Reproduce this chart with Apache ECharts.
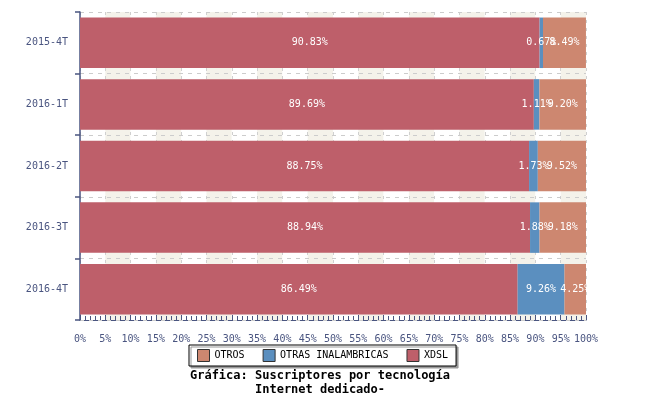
<!DOCTYPE html>
<html>
<head>
<meta charset="utf-8">
<script src="https://cdn.jsdelivr.net/npm/echarts@6/dist/echarts.min.js"></script>
<style>
  html, body { margin: 0; padding: 0; background: #fff; }
  #app { width: 650px; height: 400px; }
</style>
</head>
<body>
<div id="app"></div>
<script>
const periods = ['2015-4T', '2016-1T', '2016-2T', '2016-3T', '2016-4T'];
const xdsl = [90.83, 89.69, 88.75, 88.94, 86.49];
const otrasInalambricas = [0.67, 1.11, 1.73, 1.88, 9.26];
const otros = [8.49, 9.20, 9.52, 9.18, 4.25];

const mono = 'DejaVu Sans Mono';
const axisColor = '#4a5580';

const myChart = echarts.init(document.getElementById('app'));

const segLabel = {
  show: true,
  position: 'inside',
  color: '#fff',
  fontFamily: mono,
  fontSize: 10,
  formatter: p => p.value.toFixed(2) + '%'
};

const makeSeries = (name, data, color) => ({
  name,
  type: 'bar',
  stack: 'total',
  barCategoryGap: '18%',
  data,
  itemStyle: { color },
  label: segLabel,
  emphasis: { disabled: true }
});

const option = {
  animation: false,
  grid: { left: 80, right: 64, top: 12, bottom: 80 },
  legend: {
    data: ['OTROS', 'OTRAS INALAMBRICAS', 'XDSL'],
    left: 189,
    top: 345,
    padding: [4, 8, 4, 8],
    itemGap: 18,
    itemWidth: 12,
    itemHeight: 12,
    icon: 'rect',
    backgroundColor: '#fff',
    borderColor: '#000',
    borderWidth: 1,
    shadowColor: '#999',
    shadowOffsetX: 2,
    shadowOffsetY: 2,
    itemStyle: { borderColor: '#333', borderWidth: 1 },
    textStyle: { fontFamily: mono, fontSize: 10, color: '#000' }
  },
  title: {
    text: 'Gráfica: Suscriptores por tecnología\nInternet dedicado-',
    left: 320,
    top: 369,
    padding: 0,
    textAlign: 'center',
    textStyle: {
      fontFamily: mono,
      fontSize: 12,
      fontWeight: 'bold',
      color: '#000',
      lineHeight: 14,
      align: 'center'
    }
  },
  xAxis: {
    type: 'value',
    min: 0,
    max: 100,
    interval: 5,
    axisLine: { show: true, lineStyle: { color: axisColor } },
    axisTick: { show: true, inside: true, length: 5, lineStyle: { color: axisColor } },
    minorTick: { show: true, splitNumber: 5, length: 4, lineStyle: { color: axisColor } },
    axisLabel: {
      formatter: '{value}%',
      color: axisColor,
      fontFamily: mono,
      fontSize: 10,
      margin: 14
    },
    splitLine: { show: true, lineStyle: { color: '#d0d0d0', type: [3, 5] } },
    splitArea: { show: true, areaStyle: { color: ['#ffffff', '#f4f2ea'] } }
  },
  yAxis: {
    type: 'category',
    data: periods,
    inverse: true,
    z: 1,
    axisLine: { show: true, lineStyle: { color: axisColor, width: 1.5 } },
    axisTick: { show: true, length: 5, lineStyle: { color: axisColor, width: 1.5 } },
    axisLabel: { color: axisColor, fontFamily: mono, fontSize: 10, margin: 12 },
    splitLine: { show: true, lineStyle: { color: '#cccccc', type: [4, 5] } }
  },
  series: [
    makeSeries('XDSL', xdsl, '#be5f6a'),
    makeSeries('OTRAS INALAMBRICAS', otrasInalambricas, '#5b8fbf'),
    makeSeries('OTROS', otros, '#cd8770')
  ]
};

myChart.setOption(option);
</script>
</body>
</html>
